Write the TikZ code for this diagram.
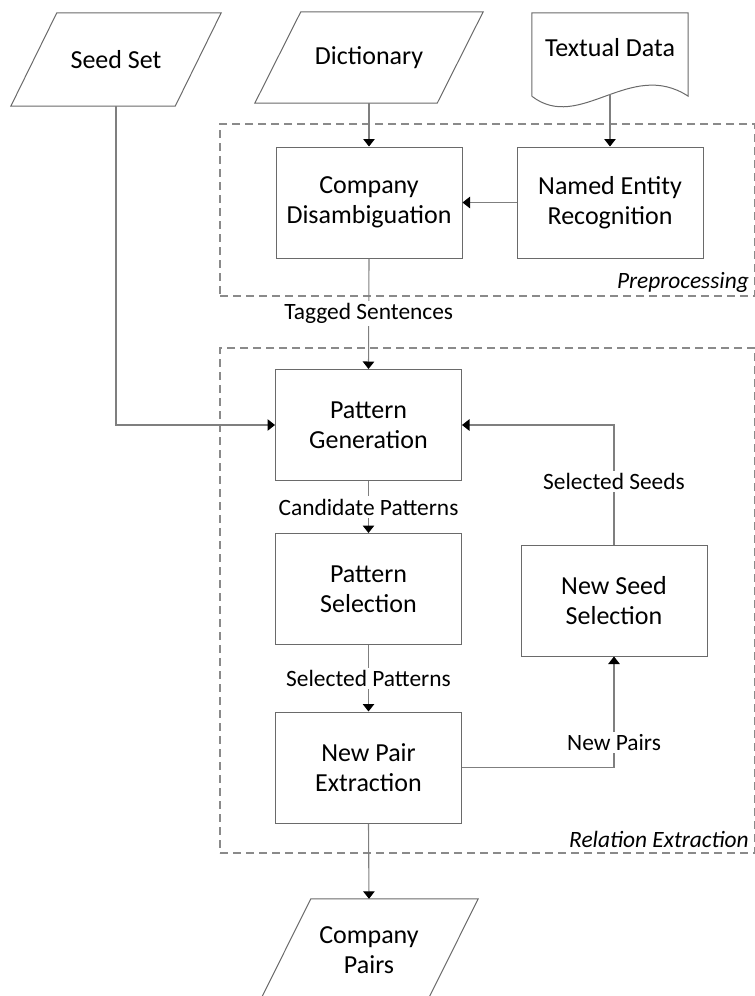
\documentclass[tikz,border=0pt]{standalone}
\usepackage{fontspec}
\setmainfont{Carlito}
\usetikzlibrary{arrows.meta}
\definecolor{boxgray}{HTML}{6A6A6A}
\definecolor{linegray}{HTML}{7F7F7F}
\definecolor{dashgray}{HTML}{8A8A8A}
\begin{document}
\begin{tikzpicture}[x=1pt,y=-1pt,
  boxline/.style={draw=boxgray, line width=1pt, line join=miter},
  conn/.style={draw=linegray, line width=1.1pt},
  flow/.style={conn, -{Triangle[length=7.5pt,width=11.5pt,color=black]}},
  boxtext/.style={font=\fontsize{26}{30.5}\selectfont, align=center, text=black},
  procbox/.style={boxline, boxtext, minimum width=186pt, minimum height=111pt, inner sep=0pt},
  shapebox/.style={boxtext, minimum height=#1, inner sep=0pt},
  groupbox/.style={draw=dashgray, line width=1.1pt, dash pattern=on 8pt off 5pt},
  grouplabel/.style={font=\fontsize{23.4}{28}\selectfont\itshape, inner sep=0pt, anchor=east},
  edgelabel/.style={font=\fontsize{23.4}{28}\selectfont, fill=white, inner sep=2.5pt, text=black}
]
\useasboundingbox (0,0) rectangle (755,996);
\clip (0,0) rectangle (755,996);

% dashed stage frames, their right side running along the page edge
\node[groupbox, minimum width=535pt, minimum height=172pt] (pre) at (487.5,210) {};
\node[grouplabel] (prelabel) at (749,282) {Preprocessing};
\node[groupbox, minimum width=535pt, minimum height=505pt] (rel) at (487.5,600.5) {};
\node[grouplabel] (rellabel) at (749,839) {Relation Extraction};

% inputs and output (parallelograms, document)
\node[shapebox=93pt, minimum width=164pt] (seed) at (116,59.5) {Seed Set};
\node[shapebox=91pt, minimum width=182pt] (dict) at (369,57.5) {Dictionary};
\node[shapebox=102pt, minimum width=167pt] (pairs) at (369,950) {Company\\Pairs};
\foreach \n/\s in {seed/23pt,dict/23pt,pairs/25.5pt}{
  \draw[boxline] ([xshift=\s]\n.north west) -- ([xshift=\s]\n.north east)
    -- ([xshift=-\s]\n.south east) -- ([xshift=-\s]\n.south west) -- cycle;
}
\node[minimum width=156pt, minimum height=83pt, inner sep=0pt] (data) at (610,54.5) {};
\draw[boxline] (data.south west) -- (data.north west) -- (data.north east) -- (data.south east)
  .. controls ([xshift=-58pt,yshift=38pt]data.south east) and ([xshift=48pt,yshift=-37pt]data.south west) .. (data.south west);
\node[boxtext, inner sep=0pt] (datatext) at (610,48) {Textual Data};
\coordinate (datawave) at (610,94);

% processing steps
\node[procbox] (cd)  at (369,202.5) {Company\\Disambiguation};
\node[procbox] (ner) at (610,202.5) {Named Entity\\Recognition};
\node[procbox] (pg)  at (368.5,425) {Pattern\\Generation};
\node[procbox] (ps)  at (368.5,589) {Pattern\\Selection};
\node[procbox] (npe) at (368.5,767.5) {New Pair\\Extraction};
\node[procbox] (nss) at (614,600.5) {New Seed\\Selection};

% connectors
\draw[flow] (dict.south) -- (cd.north);
\draw[flow] (datawave) -- (ner.north);
\draw[flow] (ner.west) -- (cd.east);
\draw[flow] (cd.south) -- node[edgelabel] (lbltag) {Tagged Sentences} (pg.north);
\draw[flow] (seed.south) |- (pg.west);
\draw[flow] (pg.south) -- node[edgelabel] (lblcand) {Candidate Patterns} (ps.north);
\draw[flow] (ps.south) -- node[edgelabel] (lblsel) {Selected Patterns} (npe.north);
\draw[flow] (npe.east) -| node[edgelabel, pos=0.614] (lblpairs) {New Pairs} (nss.south);
\draw[flow] (nss.north) |- node[edgelabel, pos=0.2625] (lblseeds) {Selected Seeds} (pg.east);
\draw[flow] (npe.south) -- (pairs.north);
\end{tikzpicture}
\end{document}
